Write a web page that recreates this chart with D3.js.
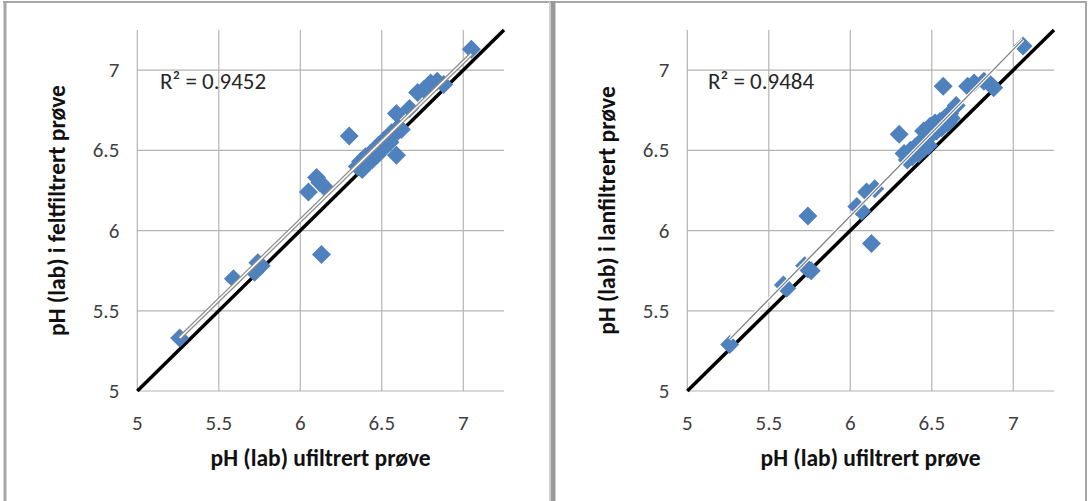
<!DOCTYPE html>
<html><head><meta charset="utf-8">
<script src="https://cdn.jsdelivr.net/npm/d3@7"></script>
<style>body{margin:0;background:#fff}svg{display:block}text{font-family:Carlito,Lato,"Open Sans",sans-serif}</style>
</head><body><svg id="c" width="1089" height="501"></svg>
<script>
const xTicks = [5, 5.5, 6, 6.5, 7];
const yTicks = [5, 5.5, 6, 6.5, 7];
const axisDomain = [5, 7.25];
const xTitle = "pH (lab) ufiltrert prøve";
const yTitles = ["pH (lab) i feltfiltrert prøve", "pH (lab) i lanfiltrert prøve"];
const r2Labels = ["R² = 0.9452", "R² = 0.9484"];

const leftX = [5.26, 5.59, 5.72, 5.74, 5.76, 6.05, 6.10, 6.12, 6.15, 6.13, 6.30, 6.59,
  6.35, 6.37, 6.38, 6.40, 6.41, 6.43, 6.44, 6.46, 6.47, 6.48, 6.50, 6.51, 6.52, 6.54, 6.55, 6.56, 6.58, 6.60, 6.62,
  6.59, 6.67, 6.72, 6.76, 6.80, 6.84, 6.88, 7.05];
const leftY = [5.33, 5.70, 5.74, 5.80, 5.78, 6.24, 6.33, 6.30, 6.27, 5.85, 6.59, 6.47,
  6.40, 6.43, 6.38, 6.46, 6.42, 6.48, 6.44, 6.51, 6.47, 6.53, 6.50, 6.56, 6.53, 6.58, 6.55, 6.61, 6.60, 6.64, 6.63,
  6.73, 6.76, 6.86, 6.88, 6.92, 6.93, 6.91, 7.13];

const rightX = [5.26, 5.59, 5.61, 5.72, 5.74, 5.76, 5.74, 6.04, 6.07, 6.10, 6.15, 6.13, 6.30,
  6.33, 6.35, 6.37, 6.38, 6.40, 6.42, 6.43, 6.45, 6.47, 6.48, 6.49, 6.50, 6.52, 6.53, 6.55, 6.56, 6.58, 6.60, 6.62, 6.45,
  6.61, 6.65, 6.57, 6.72, 6.76, 6.82, 6.86, 6.88, 7.06];
const rightY = [5.29, 5.66, 5.64, 5.78, 5.76, 5.75, 6.09, 6.15, 6.12, 6.24, 6.26, 5.92, 6.60,
  6.48, 6.44, 6.50, 6.46, 6.52, 6.48, 6.55, 6.51, 6.58, 6.53, 6.65, 6.60, 6.67, 6.62, 6.68, 6.64, 6.70, 6.67, 6.70, 6.62,
  6.73, 6.78, 6.90, 6.90, 6.92, 6.93, 6.91, 6.89, 7.15];

const svg = d3.select("#c");
const blue = "#4f81bd";

// frame
svg.append("line").attr("x1", 3).attr("x2", 1087).attr("y1", 2).attr("y2", 2).attr("stroke", "#a6a6a6").attr("stroke-width", 2);
svg.append("line").attr("x1", 5).attr("x2", 5).attr("y1", 1).attr("y2", 501).attr("stroke", "#a6a6a6").attr("stroke-width", 3);
svg.append("line").attr("x1", 1086).attr("x2", 1086).attr("y1", 1).attr("y2", 501).attr("stroke", "#a6a6a6").attr("stroke-width", 2);
svg.append("line").attr("x1", 553).attr("x2", 553).attr("y1", 1).attr("y2", 501).attr("stroke", "#999").attr("stroke-width", 5);
svg.append("line").attr("x1", 549.5).attr("x2", 549.5).attr("y1", 1).attr("y2", 501).attr("stroke", "#d0d0d0").attr("stroke-width", 1);

function drawPanel(ox, xs, ys, yTitle) {
  const x = d3.scaleLinear().domain(axisDomain).range([ox, ox + 366.7]);
  const y = d3.scaleLinear().domain(axisDomain).range([391, 30]);
  const g = svg.append("g");
  g.selectAll(".vg").data(xTicks).join("line")
    .attr("x1", d => x(d)).attr("x2", d => x(d)).attr("y1", y(axisDomain[0])).attr("y2", y(axisDomain[1]))
    .attr("stroke", "#b4b4b4").attr("stroke-width", 1.2);
  g.selectAll(".hg").data(yTicks).join("line")
    .attr("x1", x(axisDomain[0])).attr("x2", x(axisDomain[1])).attr("y1", d => y(d)).attr("y2", d => y(d))
    .attr("stroke", "#b4b4b4").attr("stroke-width", 1.2);
  g.selectAll(".xl").data(xTicks).join("text")
    .attr("x", d => x(d)).attr("y", 430).attr("text-anchor", "middle")
    .attr("font-size", 21).attr("fill", "#404040").text(d => d3.format("")(d));
  g.selectAll(".yl").data(yTicks).join("text")
    .attr("x", x(axisDomain[0]) - 18).attr("y", d => y(d) + 7).attr("text-anchor", "end")
    .attr("font-size", 21).attr("fill", "#404040").text(d => d3.format("")(d));
  g.append("text").attr("x", (x.range()[0] + x.range()[1]) / 2).attr("y", 466).attr("text-anchor", "middle")
    .attr("font-size", 23.5).attr("font-weight", "bold").attr("fill", "#111").text(xTitle);
  g.append("text").attr("transform", `translate(${ox - 72},${(391 + 30) / 2}) rotate(-90)`)
    .attr("text-anchor", "middle").attr("font-size", 23.5).attr("font-weight", "bold").attr("fill", "#111").text(yTitle);
  g.append("line").attr("x1", x(axisDomain[0])).attr("y1", y(axisDomain[0]))
    .attr("x2", x(axisDomain[1])).attr("y2", y(axisDomain[1]))
    .attr("stroke", "#000").attr("stroke-width", 3.5);
  const diamond = r => `M0,${-r}L${r},0L0,${r}L${-r},0Z`;
  g.selectAll(".pt").data(xs.map((v, i) => [v, ys[i]])).join("path")
    .attr("d", diamond(9.5)).attr("transform", d => `translate(${x(d[0])},${y(d[1])})`)
    .attr("fill", blue);
  const mx = d3.mean(xs), my = d3.mean(ys);
  const b = d3.sum(xs.map((v, i) => (v - mx) * (ys[i] - my))) / d3.sum(xs.map(v => (v - mx) ** 2));
  const a = my - b * mx;
  const x0 = d3.min(xs), x1 = d3.max(xs);
  return {g, x, y, a, b, x0, x1};
}

const L = drawPanel(137.3, leftX, leftY, yTitles[0]);
L.g.append("line").attr("x1", L.x(L.x0)).attr("y1", L.y(L.a + L.b * L.x0)).attr("x2", L.x(L.x1)).attr("y2", L.y(L.a + L.b * L.x1))
  .attr("stroke", "#8c8c8c").attr("stroke-width", 4);
L.g.append("line").attr("x1", L.x(L.x0)).attr("y1", L.y(L.a + L.b * L.x0)).attr("x2", L.x(L.x1)).attr("y2", L.y(L.a + L.b * L.x1))
  .attr("stroke", "#fff").attr("stroke-width", 1.6);
L.g.append("text").attr("x", 160).attr("y", 89).attr("font-size", 23).attr("fill", "#262626").text(r2Labels[0]);

const R = drawPanel(687.3, rightX, rightY, yTitles[1]);
R.g.append("line").attr("x1", R.x(R.x0)).attr("y1", R.y(R.a + R.b * R.x0)).attr("x2", R.x(R.x1)).attr("y2", R.y(R.a + R.b * R.x1))
  .attr("stroke", "#fff").attr("stroke-width", 3.5);
R.g.append("line").attr("x1", R.x(R.x0)).attr("y1", R.y(R.a + R.b * R.x0)).attr("x2", R.x(R.x1)).attr("y2", R.y(R.a + R.b * R.x1))
  .attr("stroke", "#7f7f7f").attr("stroke-width", 1.3);
R.g.append("text").attr("x", 708).attr("y", 89).attr("font-size", 23).attr("fill", "#262626").text(r2Labels[1]);
</script></body></html>
